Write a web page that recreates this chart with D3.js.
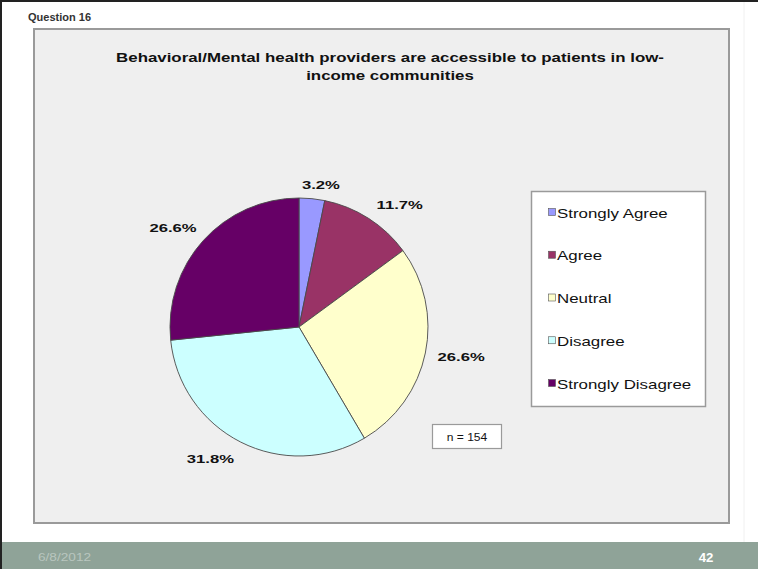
<!DOCTYPE html>
<html>
<head>
<meta charset="utf-8">
<script src="https://cdn.jsdelivr.net/npm/d3@7"></script>
<style>
  html, body { margin: 0; padding: 0; background: #ffffff; }
  svg { display: block; }
  text { font-family: Arial, "Liberation Sans", sans-serif; }
</style>
</head>
<body>
<svg id="chart" width="758" height="569"></svg>
<script>
// Survey responses, question 16
const categories = ["Strongly Agree", "Agree", "Neutral", "Disagree", "Strongly Disagree"];
const percents = [3.2, 11.7, 26.6, 31.8, 26.6];
const sliceColors = ["#9999ff", "#993366", "#ffffcc", "#ccffff", "#660066"];
const sampleSize = 154;
const questionLabel = "Question 16";
const titleLines = [
  "Behavioral/Mental health providers are accessible to patients in low-",
  "income communities"
];
const footerDate = "6/8/2012";
const pageNumber = "42";

const W = 758, H = 569;
const svg = d3.select("#chart");

// Horizontally stretched text helper (slide text is rendered wide)
function stretchedText(parent, x, y, str, opts) {
  const o = Object.assign({ size: 12, weight: "normal", fill: "#000", anchor: "start", sx: 1.25 }, opts);
  return parent.append("text")
    .attr("transform", `translate(${x},${y}) scale(${o.sx},1)`)
    .attr("text-anchor", o.anchor)
    .attr("font-size", o.size)
    .attr("font-weight", o.weight)
    .attr("fill", o.fill)
    .text(str);
}

// Slide frame
svg.append("rect").attr("x", 0).attr("y", 0).attr("width", W).attr("height", H).attr("fill", "#ffffff");
svg.append("rect").attr("x", 0).attr("y", 0).attr("width", W).attr("height", 2).attr("fill", "#222");
svg.append("rect").attr("x", 0).attr("y", 0).attr("width", 2).attr("height", H).attr("fill", "#222");
svg.append("line").attr("x1", 744).attr("x2", 744).attr("y1", 2).attr("y2", 542)
  .attr("stroke", "#f0f0f0").attr("stroke-width", 1);

stretchedText(svg, 28, 21, questionLabel, { size: 10.5, weight: "bold", fill: "#333", sx: 1.05 });

// Chart area
svg.append("rect").attr("x", 34).attr("y", 29).attr("width", 695).attr("height", 494)
  .attr("fill", "#efefef").attr("stroke", "#9a9a9a").attr("stroke-width", 2);

// Title
titleLines.forEach((line, i) => {
  stretchedText(svg, 390, 62 + i * 18, line, { size: 12.5, weight: "bold", fill: "#111", anchor: "middle", sx: 1.35 });
});

// Pie
const cx = 299, cy = 327, r = 129;
const pieGen = d3.pie().sort(null).value(d => d.value);
const arcs = pieGen(categories.map((c, i) => ({ name: c, value: percents[i], color: sliceColors[i] })));
const arcGen = d3.arc().innerRadius(0).outerRadius(r);

const g = svg.append("g").attr("transform", `translate(${cx},${cy})`);
g.selectAll("path.slice").data(arcs).enter().append("path")
  .attr("class", "slice")
  .attr("d", arcGen)
  .attr("fill", d => d.data.color)
  .attr("stroke", "#4a4a4a")
  .attr("stroke-width", 0.9);

// Data labels placed outside each slice (angle nudge in degrees, label radius)
const labelPlacement = [[3, 144], [7, 158], [-1, 165], [7, 159], [-4, 160]];
arcs.forEach((a, i) => {
  const mid = (a.startAngle + a.endAngle) / 2 + labelPlacement[i][0] * Math.PI / 180;
  const R = labelPlacement[i][1];
  const x = R * Math.sin(mid), y = -R * Math.cos(mid);
  stretchedText(g, x, y + 4, d3.format(".1f")(a.data.value) + "%",
    { size: 11.5, weight: "bold", fill: "#111", anchor: "middle", sx: 1.45 });
});

// Legend
const lg = svg.append("g");
lg.append("rect").attr("x", 531.5).attr("y", 191.5).attr("width", 174).attr("height", 215)
  .attr("fill", "#ffffff").attr("stroke", "#9a9a9a").attr("stroke-width", 1.5);
const legendY = d3.scalePoint().domain(categories).range([213, 384]);
categories.forEach((c, i) => {
  const y = legendY(c);
  lg.append("rect").attr("x", 548.5).attr("y", y - 4.5).attr("width", 7).attr("height", 7)
    .attr("fill", sliceColors[i]).attr("stroke", "#555").attr("stroke-width", 0.6);
  stretchedText(lg, 557, y + 4.5, c, { size: 13, fill: "#111", sx: 1.3 });
});

// Sample size box
svg.append("rect").attr("x", 432.5).attr("y", 424.5).attr("width", 69).attr("height", 24)
  .attr("fill", "#ffffff").attr("stroke", "#9a9a9a").attr("stroke-width", 1.2);
stretchedText(svg, 467, 441, "n = " + sampleSize, { size: 10.5, fill: "#111", anchor: "middle", sx: 1.15 });

// Footer band
svg.append("rect").attr("x", 0).attr("y", 542).attr("width", W).attr("height", H - 542).attr("fill", "#8fa398");
svg.append("rect").attr("x", 0).attr("y", 542).attr("width", 2).attr("height", H - 542).attr("fill", "#222");
stretchedText(svg, 38, 561, footerDate, { size: 10.5, fill: "#b9c6bf", sx: 1.3 });
stretchedText(svg, 706, 562, pageNumber, { size: 12, weight: "bold", fill: "#ffffff", anchor: "middle", sx: 1.1 });
</script>
</body>
</html>
